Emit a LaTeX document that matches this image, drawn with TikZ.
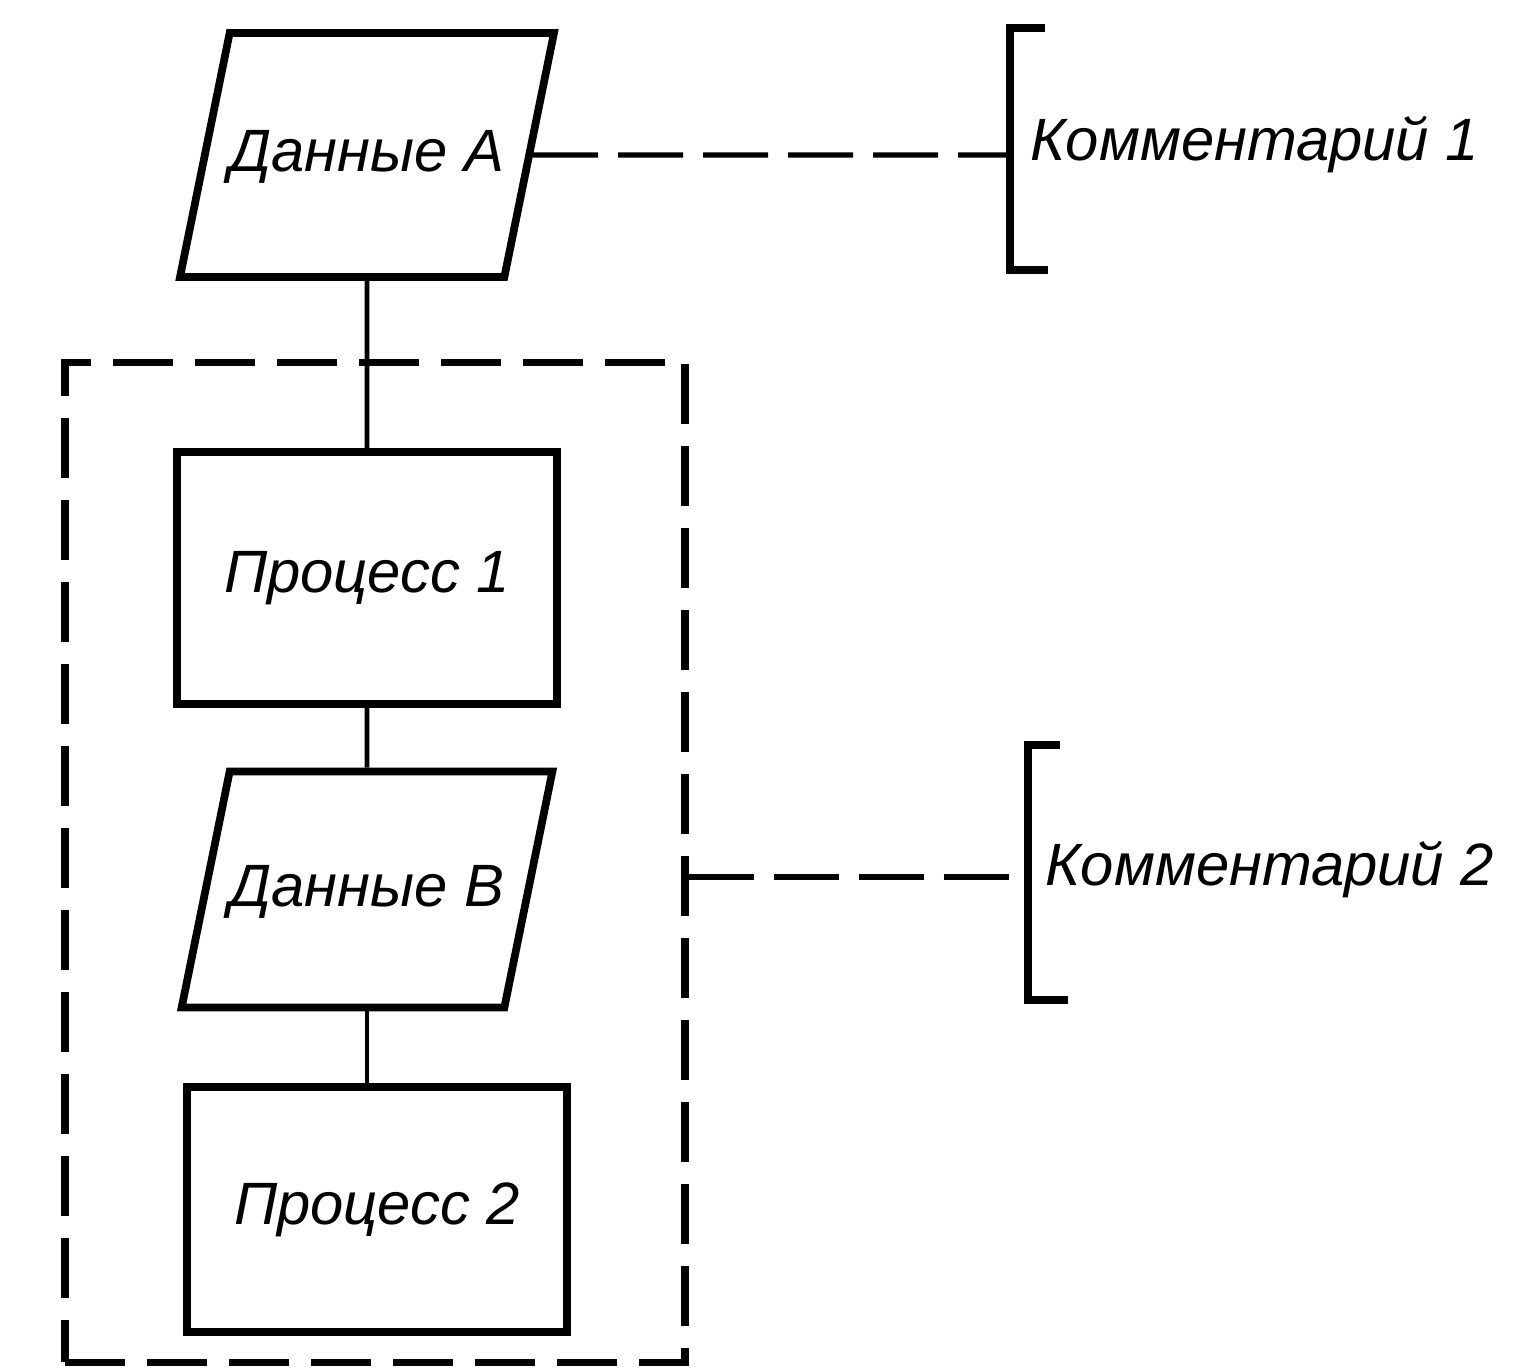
\documentclass[tikz,border=0pt]{standalone}
\usepackage{fontspec}
\setmainfont{Liberation Sans}
\usepackage{tikz}
\usetikzlibrary{positioning, shapes.geometric}

\begin{document}
\begin{tikzpicture}[
  font=\fontsize{17}{20}\selectfont\itshape,
  block/.style={rectangle, draw, line width=2.2pt, minimum width=3.8cm, minimum height=2.52cm, align=center, inner sep=3pt},
  data/.style={trapezium, trapezium left angle=78.5, trapezium right angle=101.5, trapezium stretches body, draw, line width=2.2pt, text height=0.45cm, text depth=0.12cm, inner xsep=0pt, inner ysep=0.935cm, minimum width=3.64cm},
  group/.style={rectangle, draw, dash pattern=on 0.6cm off 0.22cm, line width=2pt, minimum width=6.2cm, minimum height=10cm},
  link/.style={line width=1.4pt},
  comm/.style={line width=1.5pt, dash pattern=on 0.65cm off 0.2cm},
  brk/.style={line width=2.2pt},
  note/.style={inner sep=0pt, anchor=base west}
]
\useasboundingbox (0,0) rectangle (15.23,-13.70);
\node[data] (dA) at (3.67,-1.55) {Данные A};
\node[block, below=1.67cm of dA] (proc1) {Процесс 1};
\node[data, inner ysep=0.895cm, minimum width=3.62cm, below=0.6cm of proc1] (dB) {Данные B};
\node[block, minimum height=2.45cm, below=0.72cm of dB, xshift=0.1cm] (proc2) {Процесс 2};
\node[group] (grp) at (3.75,-8.62) {};

\draw[link] (dA) -- (proc1);
\draw[link] (proc1) -- (dB);
\draw[link] (dB.south) -- (dB.south |- proc2.north);

\coordinate (br1) at (10.10,-1.55);
\node[note] (com1) at (10.30,-1.60) {Комментарий 1};
\draw[brk] ([shift={(0.35,1.27)}]br1) -- ++(-0.35,0) |- ++(0.38,-2.42);
\draw[comm] (dA.east) -- (br1);

\coordinate (br2) at (10.28,-8.77);
\node[note] (com2) at (10.45,-8.85) {Комментарий 2};
\draw[brk] ([shift={(0.32,1.32)}]br2) -- ++(-0.32,0) |- ++(0.4,-2.55);
\draw[comm] (grp.east |- br2) -- (br2);
\end{tikzpicture}
\end{document}
